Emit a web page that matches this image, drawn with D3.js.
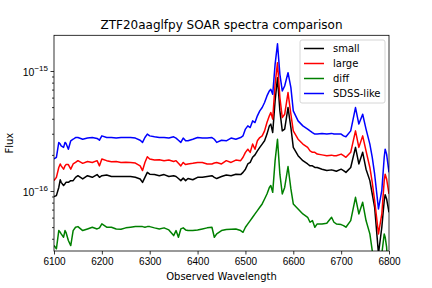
<!DOCTYPE html>
<html>
<head>
<meta charset="utf-8">
<script src="https://cdn.jsdelivr.net/npm/d3@7"></script>
<style>
  body { margin: 0; background: #fff; }
  svg { font-family: "DejaVu Sans", sans-serif; }
</style>
</head>
<body>
<svg width="432" height="288"></svg>
<script>
// wavelengths (Angstrom) and fluxes in units of 1e-17
var wave = [6100,6105,6110,6113,6115,6120,6123,6125,6130,6135,6140,6145,6150,6160,6170,6180,6190,6195,6200,6210,
  6220,6230,6240,6250,6260,6270,6280,6285,6290,6295,6300,6310,6320,6330,6340,6350,6355,6360,6365,6370,
  6375,6380,6390,6400,6410,6420,6430,6435,6440,6450,6460,6470,6480,6490,6495,6500,6505,6510,6515,6520,
  6525,6530,6535,6540,6545,6550,6553,6557,6562,6567,6572,6577,6582,6589,6595,6600,6610,6620,6630,6635,
  6640,6645,6650,6660,6670,6680,6685,6690,6700,6705,6710,6720,6730,6737,6745,6752,6760,6765,6770,6778,
  6785,6790,6792,6795,6800];

var small = [8.97,9.15,10.7,12.4,11.8,11.1,11.5,11.8,11.8,12.2,12.2,13.0,13.4,12.6,13.4,13.0,13.7,13.0,13.4,13.6,
  13.2,13.2,13.2,13.2,13.2,13.0,12.6,11.8,13.0,14.3,13.8,13.7,13.4,13.7,13.2,13.4,13.2,12.7,12.2,12.8,
  12.2,12.7,12.4,13.0,13.0,13.2,13.4,13.0,12.7,13.2,13.6,13.4,13.8,13.7,14.3,15.2,16.8,17.3,19.1,20.0,
  21.6,23.1,24.6,26.2,29.8,34.9,36.1,30.7,56.3,88.0,46.5,31.7,32.8,49.6,33.8,23.1,19.7,17.9,16.8,16.2,
  16.2,15.7,15.7,15.2,14.8,15.0,14.8,14.6,15.2,14.8,14.3,15.7,23.1,16.8,21.0,15.2,12.2,9.44,7.32,3.0,
  4.99,8.31,9.32,8.58,6.65];

var large = [12.2,13.0,15.7,16.8,16.2,15.2,16.2,16.6,16.6,15.2,16.8,17.3,17.9,17.0,17.6,17.3,17.9,16.2,18.5,17.9,
  17.5,17.6,17.3,17.4,17.3,17.1,16.2,14.8,17.3,19.3,18.5,18.1,18.2,17.9,18.1,17.6,17.9,17.0,16.2,17.3,
  16.6,16.8,17.0,17.3,17.3,16.8,16.8,17.1,17.3,16.8,17.9,17.3,18.1,17.9,19.1,21.0,22.3,21.0,24.6,22.3,
  26.2,27.9,28.8,31.7,37.2,42.3,45.1,39.7,77.5,117.3,60.0,40.9,43.6,66.1,43.6,31.7,27.0,24.6,23.1,21.6,
  21.0,21.0,20.3,20.0,19.7,19.9,19.7,19.7,20.3,19.7,19.1,21.0,31.7,23.1,28.8,21.6,15.7,11.8,8.31,4.39,
  6.44,12.2,13.8,12.6,9.44];

var diff = [3.51,3.30,4.68,4.53,4.39,4.12,4.68,4.53,3.87,3.51,4.68,4.99,5.05,4.68,4.83,4.99,4.83,4.93,5.32,4.99,
  4.99,4.83,4.80,4.93,4.99,5.05,5.05,5.05,4.99,5.05,5.05,4.93,4.83,4.93,4.74,4.25,4.68,4.12,4.83,4.93,
  4.74,4.68,4.68,4.74,4.83,4.93,4.99,4.12,4.39,4.68,4.77,4.80,4.83,4.68,4.53,4.99,5.32,5.67,6.04,6.44,
  6.86,7.32,7.80,8.58,9.44,10.7,11.1,9.75,17.9,27.0,13.8,9.44,10.7,16.0,10.4,7.80,7.09,6.44,6.04,5.49,
  5.67,4.99,5.32,5.32,5.39,6.04,5.49,5.32,5.25,5.15,4.99,5.67,8.86,6.44,8.05,5.67,4.39,3.19,2.32,1.23,
  2.99,4.39,4.12,3.40,1.69];

var sdss = [18.5,19.1,25.4,24.6,23.8,23.1,25.4,25.0,22.3,26.2,27.0,27.9,27.9,27.0,27.6,27.9,27.4,26.5,28.8,27.9,
  27.9,27.6,27.9,27.9,27.9,27.6,26.5,25.4,27.9,29.8,28.8,28.3,27.9,27.9,27.6,28.3,27.6,26.5,25.4,27.6,
  26.2,26.2,27.0,27.9,27.6,27.6,27.9,27.0,25.4,26.5,26.2,27.6,27.0,27.9,28.8,32.8,34.9,33.8,38.4,37.2,
  42.3,46.5,49.6,54.6,62.0,68.2,70.4,64.0,113.6,168.7,93.8,68.2,75.0,96.9,72.7,46.5,38.4,34.9,32.8,31.7,
  30.7,29.8,29.8,30.2,29.8,30.2,29.8,29.8,29.8,28.8,28.3,31.7,49.6,36.1,43.6,32.8,24.6,19.1,13.8,7.09,
  10.1,19.1,22.3,20.3,14.3];

var seriesNames = ["small", "large", "diff", "SDSS-like"];
var seriesColors = ["#000000", "#ff0000", "#008000", "#0000ff"];
var xTicks = [6100, 6200, 6300, 6400, 6500, 6600, 6700, 6800];
var yTicks = [1e-16, 1e-15];
var unit = 1e-17;

var svg = d3.select("svg"),
    margin = {top: 35.3, right: 43, bottom: 37, left: 54},
    width = +svg.attr("width"),
    height = +svg.attr("height");

var x = d3.scaleLinear()
    .domain([6100, 6800])
    .range([margin.left, width - margin.right]);

var y = d3.scaleLog()
    .domain([Math.pow(10, -16.5), Math.pow(10, -14.7025)])
    .range([height - margin.bottom, margin.top]);

svg.append("defs").append("clipPath")
    .attr("id", "clip")
  .append("rect")
    .attr("x", margin.left)
    .attr("y", margin.top)
    .attr("width", x.range()[1] - margin.left)
    .attr("height", y.range()[0] - margin.top);

var series = [small, large, diff, sdss];

var line = d3.line()
    .x(function(d, i) { return x(wave[i]); })
    .y(function(d) { return y(d * unit); });

svg.append("g")
    .attr("clip-path", "url(#clip)")
  .selectAll("path")
    .data(series)
  .enter().append("path")
    .attr("fill", "none")
    .attr("stroke", function(d, i) { return seriesColors[i]; })
    .attr("stroke-width", 1.5)
    .attr("stroke-linejoin", "round")
    .attr("d", line);

// axes
svg.append("g")
    .attr("transform", "translate(0," + (height - margin.bottom) + ")")
    .call(d3.axisBottom(x).tickValues(xTicks).tickFormat(d3.format("d")).tickSize(3.5).tickPadding(3.5));

var minor = [];
[1e-17, 1e-16, 1e-15].forEach(function(b) {
  for (var k = 2; k <= 9; k++) {
    var v = k * b;
    if (v > y.domain()[0] && v < y.domain()[1]) minor.push(v);
  }
});

var yAxis = svg.append("g")
    .attr("transform", "translate(" + margin.left + ",0)")
    .call(d3.axisLeft(y).tickValues(yTicks).tickFormat("").tickSize(3.5));

svg.append("g")
    .attr("transform", "translate(" + margin.left + ",0)")
    .call(d3.axisLeft(y).tickValues(minor).tickFormat("").tickSize(2))
    .select(".domain").remove();

svg.selectAll(".tick text").attr("font-size", 10).attr("fill", "#000");

var labels = yAxis.selectAll(".tick").append("text")
    .attr("class", "ylab")
    .attr("x", -6)
    .attr("dy", "0.45em")
    .attr("fill", "#000")
    .attr("text-anchor", "end")
    .attr("font-size", 10.5);
labels.append("tspan").text("10");
labels.append("tspan")
    .attr("dy", "-0.6em")
    .attr("font-size", 8)
    .text(function(d) { return "\u2212" + Math.round(-Math.log10(d)); });

svg.selectAll(".tick line").attr("stroke", "#000").attr("stroke-width", 0.8);
svg.selectAll(".domain").remove();

// frame
svg.append("rect")
    .attr("x", margin.left)
    .attr("y", margin.top)
    .attr("width", x.range()[1] - margin.left)
    .attr("height", y.range()[0] - margin.top)
    .attr("fill", "none")
    .attr("stroke", "#000")
    .attr("stroke-width", 0.8);

svg.append("text")
    .attr("x", (margin.left + x.range()[1]) / 2)
    .attr("y", 29)
    .attr("text-anchor", "middle")
    .attr("font-size", 12)
    .text("ZTF20aaglfpy SOAR spectra comparison");

svg.append("text")
    .attr("x", (margin.left + x.range()[1]) / 2)
    .attr("y", 280)
    .attr("text-anchor", "middle")
    .attr("font-size", 10)
    .text("Observed Wavelength");

svg.append("text")
    .attr("transform", "translate(13," + ((margin.top + y.range()[0]) / 2) + ") rotate(-90)")
    .attr("text-anchor", "middle")
    .attr("font-size", 10)
    .text("Flux");

// legend
var legend = svg.append("g")
    .attr("transform", "translate(300,40)");

legend.append("rect")
    .attr("width", 85)
    .attr("height", 63)
    .attr("rx", 2)
    .attr("fill", "#fff")
    .attr("fill-opacity", 0.8)
    .attr("stroke", "#cccccc")
    .attr("stroke-width", 0.8);

var item = legend.selectAll(".item")
    .data(seriesNames)
  .enter().append("g")
    .attr("transform", function(d, i) { return "translate(0," + (8.5 + i * 15) + ")"; });

item.append("line")
    .attr("x1", 4).attr("x2", 24)
    .attr("stroke", function(d, i) { return seriesColors[i]; })
    .attr("stroke-width", 1.5);

item.append("text")
    .attr("x", 33)
    .attr("dy", "0.35em")
    .attr("font-size", 10)
    .text(function(d) { return d; });
</script>
</body>
</html>
